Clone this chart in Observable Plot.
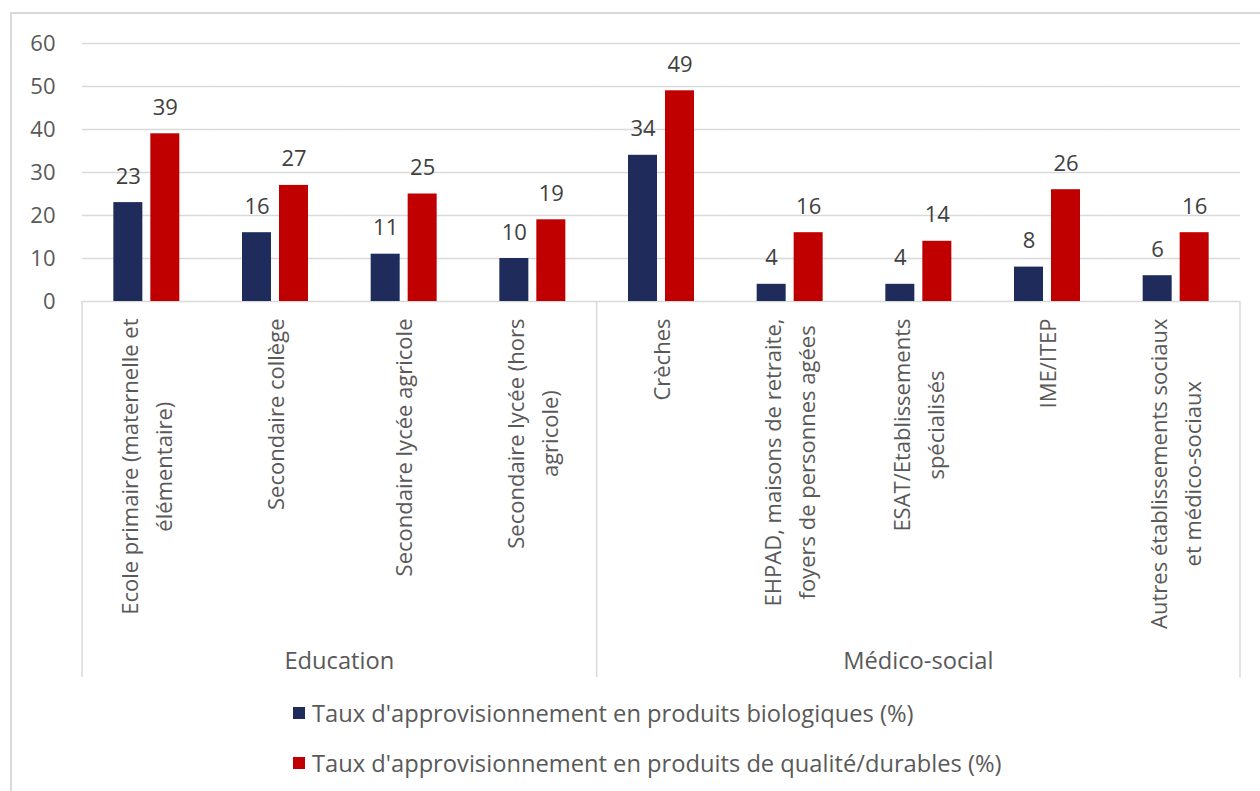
<!DOCTYPE html>
<html>
<head>
<meta charset="utf-8">
<script src="https://cdn.jsdelivr.net/npm/d3@7"></script>
<script src="https://cdn.jsdelivr.net/npm/@observablehq/plot@0.6"></script>
<style>
  html, body { margin: 0; padding: 0; background: #ffffff; overflow: hidden; }
  #wrap { position: relative; width: 1260px; height: 791px; font-family: "Open Sans", sans-serif; }
  #frame { position: absolute; left: 10px; top: 12px; width: 1300px; height: 900px;
           border-left: 2px solid #d9d9d9; border-top: 2px solid #d9d9d9; z-index: 2; pointer-events: none; }
  #chart svg { display: block; }
  .legend { padding-left: 293px; }
  .legend .row { height: 50px; display: flex; align-items: center; font-size: 23.7px; color: #595959; }
  .legend .sw { width: 12px; height: 12px; margin-right: 7px; flex: none; }
</style>
</head>
<body>
<div id="wrap">
  <div id="frame"></div>
  <div id="chart"></div>
  <div class="legend" id="legend"></div>
</div>
<script>
// ---- data ----
const categories = [
  "Ecole primaire (maternelle et\nélémentaire)",
  "Secondaire collège",
  "Secondaire lycée agricole",
  "Secondaire lycée (hors\nagricole)",
  "Crèches",
  "EHPAD, maisons de retraite,\nfoyers de personnes agées",
  "ESAT/Etablissements\nspécialisés",
  "IME/ITEP",
  "Autres établissements sociaux\net médico-sociaux"
];
const groups = ["Education", "Education", "Education", "Education",
  "Médico-social", "Médico-social", "Médico-social", "Médico-social", "Médico-social"];
const seriesNames = [
  "Taux d'approvisionnement en produits biologiques (%)",
  "Taux d'approvisionnement en produits de qualité/durables (%)"
];
const bio = [23, 16, 11, 10, 34, 4, 4, 8, 6];
const qualite = [39, 27, 25, 19, 49, 16, 14, 26, 16];
const yTicks = [0, 10, 20, 30, 40, 50, 60];
const colors = ["#1f2c5b", "#c00000"];

// ---- table ----
const table = [];
categories.forEach((c, i) => {
  table.push({cat: c, series: seriesNames[0], value: bio[i]});
  table.push({cat: c, series: seriesNames[1], value: qualite[i]});
});

const plot = Plot.plot({
  width: 1260,
  height: 688,
  marginLeft: 82,
  marginRight: 20,
  marginTop: 43,
  marginBottom: 387,
  style: {fontFamily: "'Open Sans', sans-serif", fontSize: "22px", color: "#595959", background: "transparent"},
  fx: {domain: categories, padding: 0, round: false, axis: null, label: null},
  x: {domain: seriesNames, paddingInner: 0.216, paddingOuter: 0.847, round: false, axis: null},
  y: {domain: [0, 60], ticks: yTicks, tickSize: 0, tickPadding: 27, label: null},
  color: {domain: seriesNames, range: colors},
  marks: [
    Plot.gridY(yTicks.filter(d => d > 0), {stroke: "#d9d9d9", strokeOpacity: 1, strokeWidth: 1.5}),
    Plot.ruleY([0], {stroke: "#d9d9d9", strokeWidth: 1.5}),
    Plot.barY(table, {fx: "cat", x: "series", y: "value", fill: "series"}),
    Plot.text(table, {fx: "cat", x: "series", y: "value", text: d => String(d.value), dy: -26, fill: "#404040", fontSize: 22}),
    Plot.text(categories, {fx: d => d, text: d => d, frameAnchor: "bottom", dy: 17, rotate: -90,
      textAnchor: "end", fill: "#595959", fontSize: 22})
  ]
});

document.getElementById("chart").append(plot);

// lay out the category labels: lines centred on each other, block centred on the band,
// longest line ending at the top (as in the original)
const LH = 34, BASE = 8;
plot.querySelectorAll("text").forEach(t => {
  const ts = t.querySelectorAll("tspan");
  const full = ts.length ? Array.from(ts).map(s => s.textContent).join("\n") : t.textContent;
  if (!categories.includes(full)) return;
  const lines = full.split("\n");
  while (t.firstChild) t.removeChild(t.firstChild);
  t.removeAttribute("y");
  t.removeAttribute("dy");
  t.setAttribute("text-anchor", "middle");
  const spans = lines.map(l => {
    const s = document.createElementNS("http://www.w3.org/2000/svg", "tspan");
    s.textContent = l;
    t.appendChild(s);
    return s;
  });
  const m = d3.max(spans, s => s.getComputedTextLength());
  const n = spans.length;
  spans.forEach((s, i) => {
    s.setAttribute("x", -m / 2);
    s.setAttribute("y", (i - (n - 1) / 2) * LH + BASE);
  });
});

// group separators and group labels, positioned with Plot's scales
const fx = plot.scale("fx");
const ys = plot.scale("y");
const y0 = ys.apply(0);
const svg = d3.select(plot);
const gg = svg.append("g");
const groupNames = Array.from(new Set(groups));
const bounds = [];
groupNames.forEach(g => {
  const cats = categories.filter((c, i) => groups[i] === g);
  const x1 = fx.apply(cats[0]);
  const x2 = fx.apply(cats[cats.length - 1]) + fx.bandwidth;
  bounds.push(x1, x2);
  gg.append("text")
    .attr("x", (x1 + x2) / 2)
    .attr("y", y0 + 360)
    .attr("dy", "0.35em")
    .attr("text-anchor", "middle")
    .attr("fill", "#595959")
    .attr("font-size", 23.7)
    .text(g);
});
Array.from(new Set(bounds.map(b => Math.round(b * 10) / 10))).forEach(b => {
  gg.append("line")
    .attr("x1", b).attr("x2", b)
    .attr("y1", y0).attr("y2", y0 + 376)
    .attr("stroke", "#d9d9d9").attr("stroke-width", 1.5);
});

// legend (HTML, below the SVG)
const legend = d3.select("#legend");
seriesNames.forEach((s, i) => {
  const row = legend.append("div").attr("class", "row");
  row.append("div").attr("class", "sw").style("background", colors[i]);
  row.append("span").text(s);
});
</script>
</body>
</html>
